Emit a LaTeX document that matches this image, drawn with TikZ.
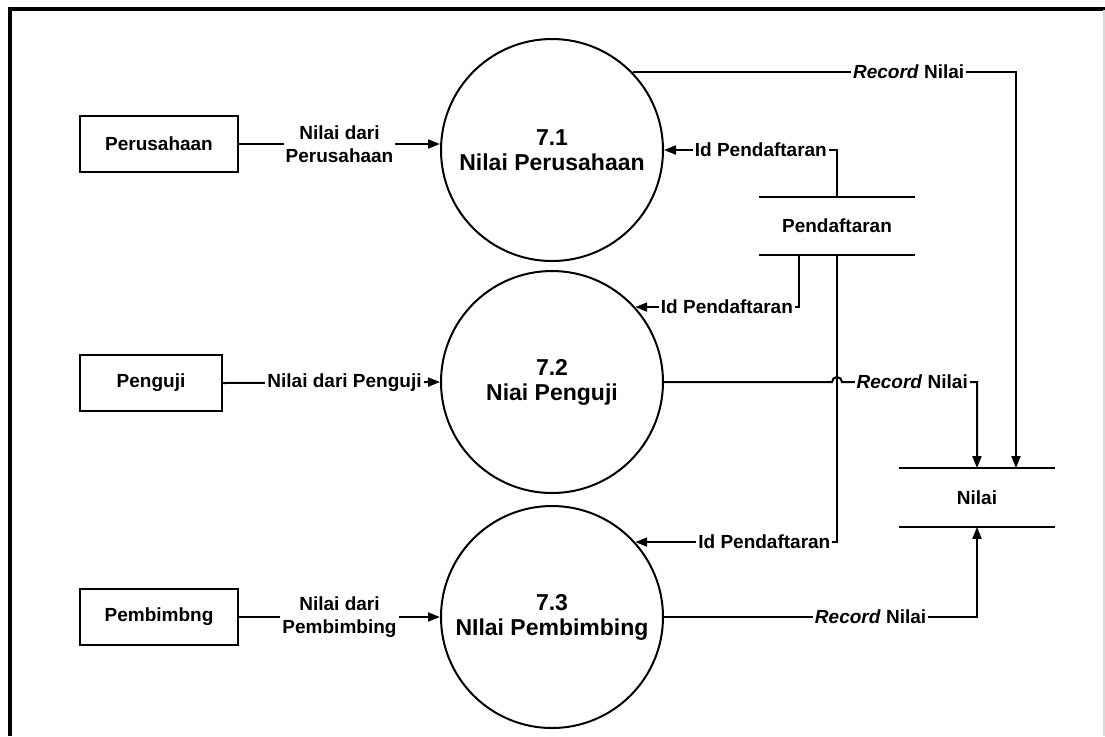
\documentclass[tikz,border=0pt]{standalone}
\usepackage{fontspec}
\setmainfont{Liberation Sans}
\usetikzlibrary{arrows.meta}
\begin{document}
    \begin{tikzpicture}[x=0.5pt, y=-0.5pt,
        every node/.style={font=\bfseries\fontsize{9.5}{11.5}\selectfont, align=center},
        proc/.style={circle, draw, line width=1pt, minimum size=111pt, inner sep=0pt, font=\bfseries\fontsize{11.5}{12.5}\selectfont},
        ent/.style={rectangle, draw, line width=1pt, minimum height=28pt},
        store/.style={minimum width=77.5pt, minimum height=29pt},
        lbl/.style={fill=white, inner sep=1pt},
        flow/.style={line width=1pt, -{Triangle[length=6pt, width=4.5pt]}}]
        \useasboundingbox (0,0) rectangle (1105,736);
        \draw[line width=2pt] (1105,9) -- (10,9) -- (10,736);
        \draw[gray!30, line width=0.6pt] (1104,10) -- (1104,736);
        \node[ent, minimum width=79pt] (pers) at (159,144) {Perusahaan};
        \node[ent, minimum width=71pt] (peng) at (151,383) {Penguji};
        \node[ent, minimum width=79pt] (pemb) at (159,617) {Pembimbng};
        \node[proc] (p1) at (552,150) {7.1\\Nilai Perusahaan};
        \node[proc] (p2) at (552,382) {7.2\\Niai Penguji};
        \node[proc] (p3) at (552,617) {7.3\\NIlai Pembimbing};
        \node[store] (pend) at (837,226) {Pendaftaran};
        \node[store] (nilai) at (977,497.5) {Nilai};
        \draw[line width=1pt] (pend.north west) -- (pend.north east);
        \draw[line width=1pt] (pend.south west) -- (pend.south east);
        \draw[line width=1pt] (nilai.north west) -- (nilai.north east);
        \draw[line width=1pt] (nilai.south west) -- (nilai.south east);
        \draw[flow] (pers.east) -- node[lbl] {Nilai dari\\Perusahaan} (pers.east -| p1.west);
        \draw[flow] (peng.east) -- node[lbl, pos=0.56] {Nilai dari Penguji} (p2.west);
        \draw[flow] (pemb.east) -- node[lbl] {Nilai dari\\Pembimbing} (p3.west);
        \draw[flow] (pend.north) |- node[lbl, pos=0.72] {Id Pendaftaran} (p1.east);
        \draw[flow] ([xshift=-19pt]pend.south) |- node[lbl, pos=0.72] {Id Pendaftaran} (p2.42);
        \draw[flow] (pend.south) |- node[lbl, pos=0.68] {Id Pendaftaran} (p3.42);
        \draw[flow] (p1.44) -| node[lbl, pos=0.36] {\textit{Record} Nilai} ([xshift=19.5pt]nilai.north);
        \draw[flow] (p2.east) -- ([xshift=-2.5pt]pend.south |- p2.east)
            arc[start angle=180, end angle=0, radius=2.5pt]
            -| node[lbl, pos=0.26] {\textit{Record} Nilai} (nilai.north);
        \draw[flow] (p3.east) -| node[lbl, pos=0.33] {\textit{Record} Nilai} (nilai.south);
    \end{tikzpicture}
\end{document}
